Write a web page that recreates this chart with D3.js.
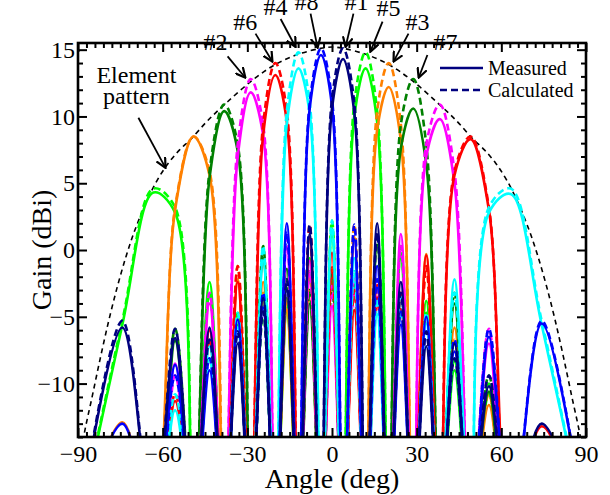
<!DOCTYPE html>
<meta charset="utf-8">
<style>
body { margin: 0; background-color: #fff; }
svg { display: block; }
text { font-family: "Liberation Serif", "Times New Roman", serif; fill: #000; }
.axis line { stroke: #000; stroke-width: 2px; }
</style>
<svg width="610" height="495"></svg>
<script src="https://d3js.org/d3.v7.min.js"></script>
<script>
// angles (deg): -90, then alternating side-lobe peaks and beam peaks/nulls, then 90
var angles = [-90, -74.3, -63.3, -55.6, -49.1, -43.4, -38.2, -33.4, -28.8, -24.4, -20.1, -16.0, -11.9, -7.9, -3.9, 0,
              3.9, 7.9, 11.9, 16.0, 20.1, 24.4, 28.8, 33.4, 38.2, 43.4, 49.1, 55.6, 63.3, 74.3, 90];

// gains (dBi) read at those angles, -21 = null below the axis
var magentaMeas = [-21, -18, -21, -8.5, -21, -4.0, -21, 7.0, 11.8, 8.6, -21, 0.2, -21, -0.8, -21, -4.2, -21, -2.0, -21, -3.5, -21, 1.2, -21, 7.0, 9.8, 5.0, -21, -7.0, -21, -16, -21];
var magentaCalc = [-21, -19.3, -21, -9.4, -21, -3.2, -21, 7.9, 12.8, 9.4, -21, 1.3, -21, -1.6, -21, -2.7, -21, -3.0, -21, -2.2, -21, 0.3, -21, 7.9, 10.9, 5.9, -21, -5.9, -21, -17.9, -21];
var redMeas = [-21, -19, -21, -11.3, -21, -6.0, -21, -2.4, -21, 8.6, 13.1, 9.6, -21, 1.0, -21, -0.2, -21, -4.5, -21, -2.6, -21, -4.4, -21, -0.4, -21, 5.6, 8.3, 3.0, -21, -13.2, -21];
var redCalc = [-21, -19.3, -21, -10.8, -21, -6.7, -21, -1.2, -21, 9.4, 14.0, 10.4, -21, 1.9, -21, -1.3, -21, -3.0, -21, -3.6, -21, -3.2, -21, -1.2, -21, 5.9, 8.5, 3.2, -21, -14.4, -21];
var cyanMeas = [-21, -17, -21, -12, -21, -7.2, -21, -5.8, -21, -0.8, -21, 9.5, 13.6, 10.2, -21, 1.4, -21, -0.6, -21, -4.8, -21, -3.5, -21, -5.5, -21, -2.2, -21, 2.8, 4.2, -5.6, -21];
var cyanCalc = [-21, -17.9, -21, -10.8, -21, -8.1, -21, -4.7, -21, 0.3, -21, 10.4, 14.8, 11.0, -21, 2.2, -21, -1.6, -21, -3.6, -21, -4.6, -21, -4.7, -21, -3.2, -21, 3.2, 4.6, -5.3, -21];
var blueMeas = [-21, -13.0, -21, -8.6, -21, -9.0, -21, -5.2, -21, -4.3, -21, 2.0, -21, 10.6, 14.6, 10.8, -21, 0.8, -21, -1.2, -21, -5.6, -21, -5.0, -21, -7.6, -21, -6.5, -21, -5.5, -21];
var blueCalc = [-21, -14.4, -21, -9.4, -21, -8.1, -21, -6.1, -21, -3.2, -21, 1.3, -21, 11.0, 15.1, 11.3, -21, 1.9, -21, -2.2, -21, -4.6, -21, -6.1, -21, -6.7, -21, -5.9, -21, -5.3, -21];
var navyMeas = [-21, -5.8, -21, -6.6, -21, -5.8, -21, -7.0, -21, -3.6, -21, -3.0, -21, 1.2, -21, 10.6, 14.3, 10.3, -21, 2.0, -21, -2.4, -21, -7.2, -21, -7.0, -21, -10.2, -21, -13, -21];
var navyCalc = [-21, -5.3, -21, -5.9, -21, -6.7, -21, -6.1, -21, -4.6, -21, -2.2, -21, 1.9, -21, 11.3, 15.1, 11.0, -21, 1.3, -21, -3.2, -21, -6.1, -21, -8.1, -21, -9.4, -21, -14.4, -21];
var limeMeas = [-21, -5.6, 4.3, 2.8, -21, -2.4, -21, -5.6, -21, -3.8, -21, -4.6, -21, -0.6, -21, 1.6, -21, 10.0, 13.6, 9.6, -21, -0.6, -21, -3.8, -21, -9.0, -21, -10.0, -21, -16, -21];
var limeCalc = [-21, -5.3, 4.6, 3.2, -21, -3.2, -21, -4.7, -21, -4.6, -21, -3.6, -21, -1.6, -21, 2.2, -21, 11.0, 14.8, 10.4, -21, 0.3, -21, -4.7, -21, -8.1, -21, -10.8, -21, -17.9, -21];
var orangeMeas = [-21, -12.9, -21, 3.0, 8.5, 5.6, -21, -2.2, -21, -2.4, -21, -4.5, -21, -2.0, -21, -2.4, -21, 1.0, -21, 9.0, 12.2, 8.2, -21, -0.3, -21, -5.8, -21, -11.6, -21, -17, -21];
var orangeCalc = [-21, -14.4, -21, 3.2, 8.5, 5.9, -21, -1.2, -21, -3.2, -21, -3.6, -21, -3.0, -21, -1.3, -21, 1.9, -21, 10.4, 14.0, 9.4, -21, -1.2, -21, -6.7, -21, -10.8, -21, -19.3, -21];
var greenMeas = [-21, -17, -21, -6.8, -21, 5.4, 10.4, 7.4, -21, -0.6, -21, -1.4, -21, -4.0, -21, -1.8, -21, -2.6, -21, 0.4, -21, 7.6, 10.6, 6.4, -21, -4.0, -21, -10.6, -21, -17, -21];
var greenCalc = [-21, -17.9, -21, -5.9, -21, 5.9, 10.9, 7.9, -21, 0.3, -21, -2.2, -21, -3.0, -21, -2.7, -21, -1.6, -21, 1.3, -21, 9.4, 12.8, 7.9, -21, -3.2, -21, -9.4, -21, -19.3, -21];

// element pattern
var envAngles = [-90, -88, -85, -82, -79, -76, -73, -70, -66, -62, -58, -54, -50, -44, -37, -28, -20, -12, -4, 0,
                 4, 12, 20, 28, 37, 44, 50, 54, 58, 62, 66, 70, 73, 76, 79, 82, 85, 88, 90];
var envGain = [-17, -14, -11, -8, -5.2, -2.7, -0.5, 1.4, 3.5, 5.2, 6.5, 7.5, 8.3, 9.7, 11.1, 12.75, 13.9, 14.65, 15.1, 15.2,
               15.1, 14.65, 13.9, 12.75, 11.1, 9.7, 8.3, 7.5, 6.5, 5.2, 3.5, 1.4, -0.5, -2.7, -5.2, -8, -11, -14, -17];

var xTicks = [-90, -60, -30, 0, 30, 60, 90];
var yTicks = [-10, -5, 0, 5, 10, 15];

var beams = [
  {color: "#00ff00", meas: limeMeas, calc: limeCalc},
  {color: "#ff8000", meas: orangeMeas, calc: orangeCalc},
  {color: "#008000", meas: greenMeas, calc: greenCalc},
  {color: "#ff00ff", meas: magentaMeas, calc: magentaCalc},
  {color: "#ff0000", meas: redMeas, calc: redCalc},
  {color: "#00ffff", meas: cyanMeas, calc: cyanCalc},
  {color: "#0000ff", meas: blueMeas, calc: blueCalc},
  {color: "#00007f", meas: navyMeas, calc: navyCalc}
];

// beam labels: text at (tx, ty), arrow from (fx, fy) to (ax, ay), data units
var notes = [
  {t: "#2", tx: -41.3, ty: 15.0, fx: -37.0, fy: 14.5, ax: -30.7, ay: 12.9},
  {t: "#6", tx: -30.7, ty: 16.5, fx: -27.1, fy: 16.2, ax: -21.1, ay: 14.1},
  {t: "#4", tx: -20.0, ty: 17.6, fx: -18.2, fy: 17.3, ax: -12.9, ay: 15.2},
  {t: "#8", tx: -9.0, ty: 18.0, fx: -7.6, fy: 17.7, ax: -5.1, ay: 15.15},
  {t: "#1", tx: 8.7, ty: 18.0, fx: 7.6, fy: 17.7, ax: 4.8, ay: 15.2},
  {t: "#5", tx: 20.0, ty: 17.5, fx: 17.9, fy: 17.1, ax: 13.6, ay: 14.85},
  {t: "#3", tx: 30.3, ty: 16.5, fx: 27.1, fy: 16.2, ax: 21.8, ay: 14.1},
  {t: "#7", tx: 40.2, ty: 15.0, fx: 33.8, fy: 14.6, ax: 30.7, ay: 12.9}
];

var svg = d3.select("svg"),
    margin = {top: 43, right: 24, bottom: 58, left: 78},
    width = +svg.attr("width") - margin.left - margin.right,
    height = +svg.attr("height") - margin.top - margin.bottom;

var defs = svg.append("defs");
defs.append("clipPath").attr("id", "clip")
  .append("rect").attr("width", width).attr("height", height);
defs.append("marker").attr("id", "arrow")
    .attr("viewBox", "0 0 10 10").attr("refX", 9).attr("refY", 5)
    .attr("markerWidth", 11).attr("markerHeight", 11)
    .attr("markerUnits", "userSpaceOnUse").attr("orient", "auto")
  .append("path").attr("d", "M0,0.5L9,5L0,9.5")
    .attr("fill", "none").attr("stroke", "#000").attr("stroke-width", 2);

var x = d3.scaleLinear().domain([-90, 90]).range([0, width]);
var y = d3.scaleLinear().domain([-14, 15.5]).range([height, 0]);

var g = svg.append("g").attr("transform", "translate(" + margin.left + "," + margin.top + ")");

var line = d3.line()
    .x(function(d) { return x(d[0]); })
    .y(function(d) { return y(d[1]); })
    .curve(d3.curveCatmullRom.alpha(0.5));

var plot = g.append("g").attr("clip-path", "url(#clip)");

plot.append("path")
    .datum(d3.zip(envAngles, envGain))
    .attr("d", line)
    .attr("fill", "none").attr("stroke", "#000")
    .attr("stroke-width", 1.6).attr("stroke-dasharray", "5,4");

beams.forEach(function(b) {
  plot.append("path")
      .datum(d3.zip(angles, b.meas))
      .attr("d", line)
      .attr("fill", "none").attr("stroke", b.color).attr("stroke-width", 2.6);
  plot.append("path")
      .datum(d3.zip(angles, b.calc))
      .attr("d", line)
      .attr("fill", "none").attr("stroke", b.color).attr("stroke-width", 2.6)
      .attr("stroke-dasharray", "7,4");
});

// axes, ticks pointing inward on all four sides
var minorX = d3.range(-90, 91, 3).filter(function(v) { return v % 30 !== 0; });
var minorY = d3.range(-14, 16, 1).filter(function(v) { return v % 5 !== 0; });

function clean(sel) {
  sel.select(".domain").remove();
  sel.attr("font-family", null).attr("font-size", 24);
}

g.append("g").attr("class", "axis").attr("transform", "translate(0," + height + ")")
  .call(d3.axisBottom(x).tickValues(xTicks).tickSizeInner(-9).tickSizeOuter(0).tickPadding(8))
  .call(clean);
g.append("g").attr("class", "axis").attr("transform", "translate(0," + height + ")")
  .call(d3.axisBottom(x).tickValues(minorX).tickSize(-5).tickFormat(""))
  .call(clean);
g.append("g").attr("class", "axis")
  .call(d3.axisTop(x).tickValues(xTicks).tickSize(-9).tickFormat(""))
  .call(clean);
g.append("g").attr("class", "axis")
  .call(d3.axisTop(x).tickValues(minorX).tickSize(-5).tickFormat(""))
  .call(clean);
g.append("g").attr("class", "axis")
  .call(d3.axisLeft(y).tickValues(yTicks).tickSizeInner(-9).tickSizeOuter(0).tickPadding(3))
  .call(clean);
g.append("g").attr("class", "axis")
  .call(d3.axisLeft(y).tickValues(minorY).tickSize(-5).tickFormat(""))
  .call(clean);
g.append("g").attr("class", "axis").attr("transform", "translate(" + width + ",0)")
  .call(d3.axisRight(y).tickValues(yTicks).tickSize(-9).tickFormat(""))
  .call(clean);
g.append("g").attr("class", "axis").attr("transform", "translate(" + width + ",0)")
  .call(d3.axisRight(y).tickValues(minorY).tickSize(-5).tickFormat(""))
  .call(clean);

g.append("rect")
    .attr("width", width).attr("height", height)
    .attr("fill", "none").attr("stroke", "#000").attr("stroke-width", 2.6);

// axis titles
g.append("text")
    .attr("x", width / 2).attr("y", height + 51)
    .attr("text-anchor", "middle").attr("font-size", 28)
    .text("Angle (deg)");
g.append("text")
    .attr("transform", "translate(" + (-37) + "," + (height / 2 + 10) + ") rotate(-90)")
    .attr("text-anchor", "middle").attr("dy", "0.35em").attr("font-size", 28)
    .text("Gain (dBi)");

// legend
var legend = g.append("g").attr("transform", "translate(" + (width - 146) + ",25)");
[{label: "Measured", dash: null}, {label: "Calculated", dash: "7,4"}].forEach(function(d, i) {
  legend.append("line")
      .attr("x1", 0).attr("x2", 43).attr("y1", i * 22).attr("y2", i * 22)
      .attr("stroke", "#00007f").attr("stroke-width", 2.6)
      .attr("stroke-dasharray", d.dash);
  legend.append("text")
      .attr("x", 48).attr("y", i * 22 + 7)
      .attr("font-size", 20)
      .text(d.label);
});

// beam annotations (drawn in full svg so text can leave the frame)
var ann = g.append("g");
notes.forEach(function(n) {
  ann.append("text")
      .attr("x", x(n.tx)).attr("y", y(n.ty))
      .attr("text-anchor", "middle").attr("font-size", 24)
      .text(n.t);
  ann.append("line")
      .attr("x1", x(n.fx)).attr("y1", y(n.fy))
      .attr("x2", x(n.ax)).attr("y2", y(n.ay))
      .attr("stroke", "#000").attr("stroke-width", 1.8)
      .attr("marker-end", "url(#arrow)");
});

ann.append("text")
    .attr("x", x(-69.3)).attr("y", y(12.5))
    .attr("text-anchor", "middle").attr("font-size", 24)
    .text("Element");
ann.append("text")
    .attr("x", x(-69.3)).attr("y", y(10.9))
    .attr("text-anchor", "middle").attr("font-size", 24)
    .text("pattern");
ann.append("line")
    .attr("x1", x(-68.6)).attr("y1", y(9.9))
    .attr("x2", x(-59)).attr("y2", y(6.15))
    .attr("stroke", "#000").attr("stroke-width", 1.8)
    .attr("marker-end", "url(#arrow)");
</script>
